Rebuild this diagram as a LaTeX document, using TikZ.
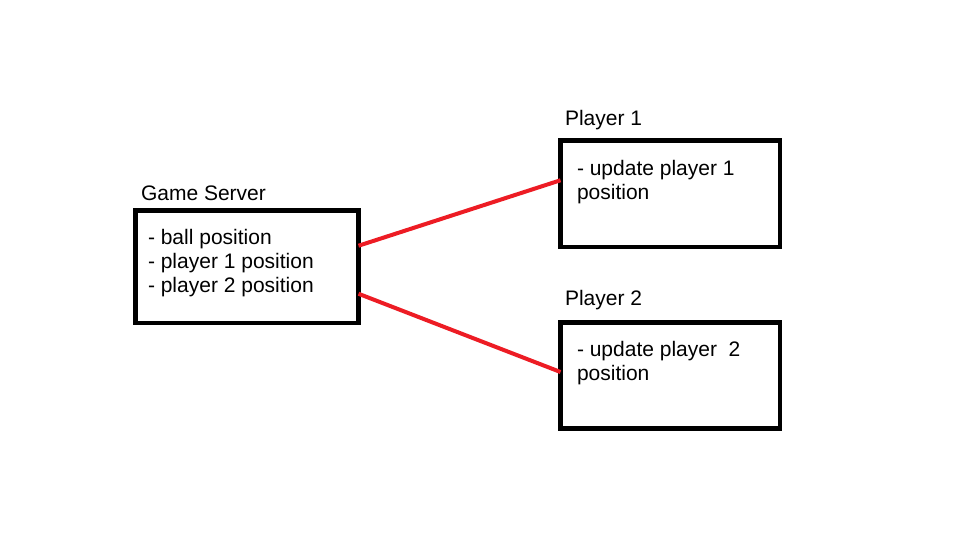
\documentclass[tikz,border=0pt]{standalone}
\usepackage{fontspec}
\setmainfont{Liberation Sans}
\definecolor{paintred}{RGB}{237,28,36}
\begin{document}
\begin{tikzpicture}[x=1pt,y=-1pt,
  box/.style={draw=black,line width=4.5pt,fill=white,inner sep=0pt,outer sep=0pt},
  txt/.style={anchor=base west,inner sep=0pt,outer sep=0pt,font=\fontsize{21}{24}\selectfont},
  link/.style={draw=paintred,line width=4pt}]
\useasboundingbox (0,0) rectangle (953,546);
\fill[white] (0,0) rectangle (953,546);
% boxes
\node[box,minimum width=223pt,minimum height=112.5pt] (gs) at (247,266.75) {};
\node[box,minimum width=219.5pt,minimum height=106.5pt] (p1) at (670.25,193.75) {};
\node[box,minimum width=219.5pt,minimum height=106pt] (p2) at (670.25,375.5) {};
% connector endpoints on box borders
\coordinate (gsA) at ([yshift=21pt]gs.east);
\coordinate (gsB) at ([yshift=-27pt]gs.east);
\coordinate (p1A) at ([yshift=13.5pt]p1.west);
\coordinate (p2A) at ([yshift=3.5pt]p2.west);
\draw[link] (gsA) -- (p1A);
\draw[link] (gsB) -- (p2A);
% titles
\node[txt] (gsT) at (141,200) {Game Server};
\node[txt] (p1T) at (565,125) {Player 1};
\node[txt] (p2T) at (565,305) {Player 2};
% box texts
\node[txt] (gs1) at (148,244) {- ball position};
\node[txt] (gs2) at (148,268) {- player 1 position};
\node[txt] (gs3) at (148,292) {- player 2 position};
\node[txt] (p1a) at (577,175) {- update player 1};
\node[txt] (p1b) at (577,199) {position};
\node[txt] (p2a) at (577,356) {- update player\ \ 2};
\node[txt] (p2b) at (577,380) {position};
\end{tikzpicture}
\end{document}
